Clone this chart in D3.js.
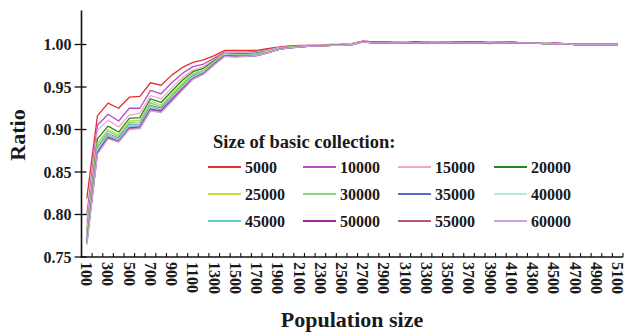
<!DOCTYPE html>
<html>
<head>
<meta charset="utf-8">
<script src="https://cdn.jsdelivr.net/npm/d3@7/dist/d3.min.js"></script>
<style>
  html, body { margin: 0; padding: 0; background: #fff; }
  svg { display: block; }
  text { font-family: "Liberation Serif", "Times New Roman", serif; font-weight: bold; fill: #1a1a1a; }
</style>
</head>
<body>
<svg id="chart" width="627" height="334"></svg>
<script>
// Population sizes on the horizontal axis
const populationSizes = [
  100, 200, 300, 400, 500, 600, 700, 800, 900, 1000,
  1100, 1200, 1300, 1400, 1500, 1600, 1700, 1800, 1900, 2000,
  2100, 2200, 2300, 2400, 2500, 2600, 2700, 2800, 2900, 3000,
  3100, 3200, 3300, 3400, 3500, 3600, 3700, 3800, 3900, 4000,
  4100, 4200, 4300, 4400, 4500, 4600, 4700, 4800, 4900, 5000, 5100
];

// Labelled population sizes (every other category)
const xTickLabels = [
  100, 300, 500, 700, 900, 1100, 1300, 1500, 1700, 1900, 2100, 2300, 2500,
  2700, 2900, 3100, 3300, 3500, 3700, 3900, 4100, 4300, 4500, 4700, 4900, 5100
];

const yTicks = [0.75, 0.80, 0.85, 0.90, 0.95, 1.00];

// Sizes of the basic collection (one line each)
const collectionSizes = [5000, 10000, 15000, 20000, 25000, 30000, 35000, 40000, 45000, 50000, 55000, 60000];

const lineColors = [
  "#e3302c", "#b94cc6", "#f3a7cc", "#1f8a22", "#c8dc3e", "#84d884",
  "#5b6cc0", "#b3eadb", "#5fcfd2", "#96289e", "#b2557a", "#c9a3e3"
];

// Ratio per population size, one array per collection size
const ratio5000 = [
  0.819, 0.916, 0.931, 0.925, 0.938, 0.939, 0.955, 0.952,
  0.964, 0.973, 0.979, 0.982, 0.987, 0.993, 0.993, 0.993, 0.993, 0.995,
  0.997, 0.998, 0.999, 0.999, 0.999, 1.000, 1.000, 1.001, 1.004, 1.003, 1.003, 1.003, 1.003,
  1.003, 1.001, 1.003, 1.003, 1.003, 1.003, 1.002, 1.001, 1.002, 1.003, 1.002, 1.002,
  1.002, 1.002, 1.001, 1.000, 1.000, 1.000, 1.000, 1.000
];
const ratio10000 = [
  0.799, 0.905, 0.918, 0.910, 0.925, 0.925, 0.946, 0.942,
  0.955, 0.966, 0.974, 0.977, 0.984, 0.991, 0.991, 0.991, 0.992, 0.994,
  0.996, 0.998, 0.998, 0.999, 0.999, 0.999, 1.000, 1.001, 1.004, 1.003, 1.003, 1.003, 1.003,
  1.003, 1.003, 1.003, 1.003, 1.003, 1.003, 1.003, 1.003, 1.003, 1.003, 1.002, 1.002,
  1.002, 1.002, 1.001, 1.000, 1.000, 1.000, 1.000, 1.000
];
const ratio15000 = [
  0.790, 0.899, 0.911, 0.903, 0.917, 0.919, 0.940, 0.936,
  0.949, 0.961, 0.970, 0.974, 0.982, 0.990, 0.990, 0.990, 0.991, 0.993,
  0.996, 0.997, 0.998, 0.999, 0.999, 0.999, 1.000, 1.001, 1.003, 1.002, 1.002, 1.003, 1.003,
  1.002, 1.002, 1.003, 1.002, 1.002, 1.002, 1.002, 1.002, 1.002, 1.002, 1.002, 1.002,
  1.002, 1.001, 1.001, 1.000, 1.000, 1.000, 1.000, 1.000
];
const ratio20000 = [
  0.781, 0.889, 0.904, 0.897, 0.913, 0.914, 0.936, 0.932,
  0.945, 0.958, 0.968, 0.972, 0.981, 0.989, 0.989, 0.989, 0.990, 0.992,
  0.995, 0.997, 0.998, 0.998, 0.999, 0.999, 1.000, 1.001, 1.003, 1.002, 1.002, 1.002, 1.002,
  1.003, 1.002, 1.002, 1.002, 1.002, 1.002, 1.003, 1.002, 1.002, 1.002, 1.002, 1.002,
  1.001, 1.001, 1.001, 1.000, 1.000, 1.000, 1.000, 1.000
];
const ratio25000 = [
  0.778, 0.884, 0.900, 0.894, 0.910, 0.911, 0.933, 0.929,
  0.942, 0.955, 0.966, 0.970, 0.980, 0.989, 0.988, 0.988, 0.989, 0.992,
  0.995, 0.997, 0.998, 0.998, 0.999, 0.999, 1.000, 1.001, 1.003, 1.002, 1.002, 1.002, 1.003,
  1.002, 1.002, 1.002, 1.002, 1.002, 1.002, 1.002, 1.003, 1.002, 1.002, 1.002, 1.002,
  1.002, 1.001, 1.001, 1.000, 1.000, 1.000, 1.000, 1.000
];
const ratio30000 = [
  0.775, 0.881, 0.898, 0.892, 0.908, 0.909, 0.931, 0.927,
  0.940, 0.953, 0.965, 0.969, 0.979, 0.988, 0.988, 0.988, 0.989, 0.991,
  0.995, 0.997, 0.997, 0.998, 0.998, 0.999, 1.000, 1.001, 1.003, 1.002, 1.002, 1.002, 1.002,
  1.002, 1.002, 1.002, 1.003, 1.002, 1.002, 1.002, 1.002, 1.002, 1.002, 1.002, 1.002,
  1.002, 1.001, 1.001, 1.000, 1.000, 1.000, 1.000, 1.000
];
const ratio35000 = [
  0.772, 0.878, 0.895, 0.890, 0.906, 0.906, 0.928, 0.925,
  0.938, 0.951, 0.963, 0.968, 0.978, 0.988, 0.987, 0.987, 0.988, 0.991,
  0.994, 0.996, 0.997, 0.998, 0.998, 0.999, 0.999, 1.000, 1.003, 1.002, 1.002, 1.002, 1.002,
  1.002, 1.002, 1.002, 1.002, 1.002, 1.003, 1.002, 1.002, 1.002, 1.002, 1.002, 1.002,
  1.001, 1.001, 1.001, 1.000, 1.000, 1.000, 1.000, 1.000
];
const ratio40000 = [
  0.771, 0.877, 0.894, 0.889, 0.905, 0.905, 0.927, 0.924,
  0.937, 0.950, 0.962, 0.968, 0.978, 0.988, 0.987, 0.987, 0.988, 0.991,
  0.994, 0.996, 0.997, 0.998, 0.998, 0.999, 0.999, 1.000, 1.003, 1.002, 1.002, 1.002, 1.002,
  1.002, 1.002, 1.002, 1.002, 1.002, 1.002, 1.002, 1.002, 1.002, 1.002, 1.002, 1.002,
  1.001, 1.001, 1.001, 1.000, 1.000, 1.000, 1.000, 1.000
];
const ratio45000 = [
  0.769, 0.875, 0.893, 0.888, 0.904, 0.904, 0.926, 0.923,
  0.936, 0.949, 0.961, 0.967, 0.978, 0.987, 0.987, 0.987, 0.988, 0.990,
  0.994, 0.996, 0.997, 0.998, 0.998, 0.999, 0.999, 1.000, 1.003, 1.002, 1.002, 1.002, 1.002,
  1.002, 1.002, 1.002, 1.002, 1.002, 1.002, 1.002, 1.002, 1.002, 1.002, 1.002, 1.002,
  1.001, 1.001, 1.001, 1.000, 1.000, 1.000, 1.000, 1.000
];
const ratio50000 = [
  0.767, 0.873, 0.891, 0.886, 0.902, 0.903, 0.924, 0.922,
  0.935, 0.948, 0.960, 0.966, 0.977, 0.987, 0.986, 0.986, 0.987, 0.990,
  0.994, 0.996, 0.997, 0.998, 0.998, 0.999, 0.999, 1.000, 1.003, 1.002, 1.002, 1.002, 1.002,
  1.002, 1.002, 1.002, 1.002, 1.002, 1.002, 1.002, 1.002, 1.002, 1.002, 1.002, 1.002,
  1.001, 1.001, 1.001, 1.000, 1.000, 1.000, 1.000, 1.000
];
const ratio55000 = [
  0.766, 0.872, 0.890, 0.886, 0.901, 0.902, 0.923, 0.921,
  0.934, 0.947, 0.960, 0.966, 0.977, 0.987, 0.986, 0.986, 0.987, 0.990,
  0.994, 0.996, 0.997, 0.998, 0.998, 0.999, 0.999, 1.000, 1.003, 1.002, 1.002, 1.002, 1.002,
  1.002, 1.002, 1.002, 1.002, 1.002, 1.002, 1.002, 1.002, 1.002, 1.002, 1.002, 1.002,
  1.001, 1.001, 1.001, 1.000, 1.000, 1.000, 1.000, 1.000
];
const ratio60000 = [
  0.764, 0.871, 0.889, 0.885, 0.900, 0.901, 0.922, 0.920,
  0.933, 0.946, 0.959, 0.965, 0.976, 0.986, 0.985, 0.986, 0.987, 0.990,
  0.994, 0.996, 0.997, 0.998, 0.998, 0.999, 0.999, 1.000, 1.003, 1.002, 1.002, 1.002, 1.002,
  1.002, 1.002, 1.002, 1.002, 1.002, 1.002, 1.002, 1.002, 1.002, 1.002, 1.002, 1.002,
  1.001, 1.001, 1.001, 1.000, 1.000, 1.000, 1.000, 1.000
];

const seriesValues = [
  ratio5000, ratio10000, ratio15000, ratio20000, ratio25000, ratio30000,
  ratio35000, ratio40000, ratio45000, ratio50000, ratio55000, ratio60000
];

const svg = d3.select("#chart");

const plotLeft = 81.5, plotRight = 623, plotTop = 10.5, plotBottom = 257;

const x = d3.scaleBand().domain(populationSizes).range([plotLeft, plotRight]).padding(0);
const bw = x.bandwidth();
const xc = d => x(d) + bw / 2;

const y = d3.scaleLinear().domain([0.75, 1.04]).range([plotBottom, plotTop]);

// Lines, drawn in order so that larger collections sit on top
const line = d3.line()
  .x((v, i) => xc(populationSizes[i]))
  .y(v => y(v));

svg.append("g")
  .selectAll("path")
  .data(seriesValues)
  .join("path")
  .attr("d", d => line(d))
  .attr("fill", "none")
  .attr("stroke", (d, i) => lineColors[i])
  .attr("stroke-width", 1.3)
  .attr("stroke-linejoin", "round");

// Y axis: ticks cross the axis line
const yAxis = svg.append("g").attr("transform", `translate(${plotLeft},0)`);
yAxis.append("line")
  .attr("x1", 0).attr("x2", 0).attr("y1", plotTop).attr("y2", plotBottom)
  .attr("stroke", "#111").attr("stroke-width", 1.6);
yAxis.selectAll("line.tick")
  .data(yTicks)
  .join("line")
  .attr("class", "tick")
  .attr("x1", -7).attr("x2", 5)
  .attr("y1", d => y(d)).attr("y2", d => y(d))
  .attr("stroke", "#111").attr("stroke-width", 1.3);
yAxis.selectAll("text")
  .data(yTicks)
  .join("text")
  .attr("x", -10)
  .attr("y", d => y(d))
  .attr("dy", "0.35em")
  .attr("text-anchor", "end")
  .style("font-size", "16px")
  .text(d => d3.format(".2f")(d));

// X axis: inward ticks at category boundaries, rotated labels
const xAxis = svg.append("g");
xAxis.append("line")
  .attr("x1", plotLeft - 1).attr("x2", plotRight)
  .attr("y1", plotBottom).attr("y2", plotBottom)
  .attr("stroke", "#111").attr("stroke-width", 1.6);
xAxis.selectAll("line.tick")
  .data(populationSizes)
  .join("line")
  .attr("class", "tick")
  .attr("x1", d => x(d) + bw).attr("x2", d => x(d) + bw)
  .attr("y1", plotBottom).attr("y2", plotBottom - 4)
  .attr("stroke", "#111").attr("stroke-width", 1.1);
xAxis.selectAll("text")
  .data(xTickLabels)
  .join("text")
  .attr("transform", d => `translate(${xc(d)},${plotBottom + 5}) rotate(90)`)
  .attr("dy", "0.35em")
  .attr("text-anchor", "start")
  .style("font-size", "16px")
  .text(d => d);

// Axis titles
svg.append("text")
  .attr("transform", "translate(25,135) rotate(-90)")
  .attr("text-anchor", "middle")
  .style("font-size", "22px")
  .text("Ratio");

svg.append("text")
  .attr("x", 352).attr("y", 327)
  .attr("text-anchor", "middle")
  .style("font-size", "22px")
  .text("Population size");

// Legend
const legend = svg.append("g");
legend.append("text")
  .attr("x", 213).attr("y", 148)
  .style("font-size", "18.5px")
  .text("Size of basic collection:");

const colX = [208, 303, 398, 494];
const rowY = [167, 194, 221];
const items = legend.selectAll("g.item")
  .data(collectionSizes)
  .join("g")
  .attr("class", "item")
  .attr("transform", (d, i) => `translate(${colX[i % 4]},${rowY[Math.floor(i / 4)]})`);
items.append("line")
  .attr("x1", 0).attr("x2", 33).attr("y1", 0).attr("y2", 0)
  .attr("stroke", (d, i) => lineColors[i])
  .attr("stroke-width", 2);
items.append("text")
  .attr("x", 37).attr("y", 0).attr("dy", "0.35em")
  .style("font-size", "16px")
  .text(d => d);
</script>
</body>
</html>
